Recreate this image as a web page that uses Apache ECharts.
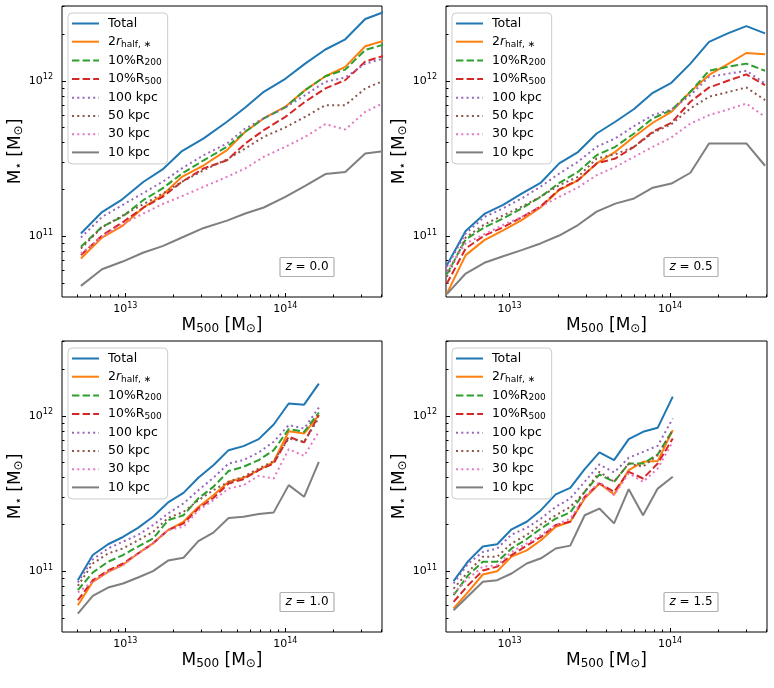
<!DOCTYPE html>
<html><head><meta charset="utf-8">
<script src="https://cdn.jsdelivr.net/npm/echarts@6/dist/echarts.min.js"></script>
<style>html,body{margin:0;padding:0;background:#fff}#c{width:774px;height:688px}</style>
</head><body><div id="c"></div>
<script>
// ---------- data ----------
const seriesNames = ['Total', '2r_half', '10%R200', '10%R500', '100 kpc', '50 kpc', '30 kpc', '10 kpc'];
const redshiftLabels = ['0.0', '0.5', '1.0', '1.5'];
const xMajorTicks = [1e13, 1e14];
const yMajorTicks = [1e11, 1e12];
const xMinorTicks = [5e12, 6e12, 7e12, 8e12, 9e12, 2e13, 3e13, 4e13, 5e13, 6e13, 7e13, 8e13, 9e13, 2e14, 3e14, 4e14];
const yMinorTicks = [5e10, 6e10, 7e10, 8e10, 9e10, 2e11, 3e11, 4e11, 5e11, 6e11, 7e11, 8e11, 9e11, 2e12, 3e12];

// z = 0.0
const z00_x      = [5.28e12, 7.15e12, 9.53e12, 1.30e13, 1.71e13, 2.26e13, 3.09e13, 4.32e13, 5.62e13, 7.33e13, 1.0e14, 1.33e14, 1.78e14, 2.37e14, 3.16e14, 4.12e14];
const z00_total  = [1.04e11, 1.43e11, 1.72e11, 2.24e11, 2.69e11, 3.53e11, 4.26e11, 5.45e11, 6.74e11, 8.5e11, 1.03e12, 1.29e12, 1.59e12, 1.85e12, 2.50e12, 2.77e12];
const z00_r2half = [7.18e10, 9.8e10, 1.16e11, 1.53e11, 1.84e11, 2.41e11, 2.86e11, 3.58e11, 4.70e11, 5.73e11, 6.81e11, 8.71e11, 1.07e12, 1.23e12, 1.67e12, 1.81e12];
const z00_r200   = [8.54e10, 1.15e11, 1.33e11, 1.71e11, 2.03e11, 2.53e11, 3.08e11, 3.76e11, 4.70e11, 5.73e11, 6.74e11, 8.71e11, 1.07e12, 1.18e12, 1.58e12, 1.71e12];
const z00_r500   = [7.55e10, 1.01e11, 1.22e11, 1.53e11, 1.79e11, 2.24e11, 2.73e11, 3.08e11, 3.95e11, 4.81e11, 5.86e11, 7.33e11, 8.93e11, 1.01e12, 1.33e12, 1.45e12];
const z00_k100   = [9.8e10, 1.33e11, 1.58e11, 1.90e11, 2.24e11, 2.73e11, 3.32e11, 3.95e11, 4.93e11, 5.73e11, 6.74e11, 8.09e11, 9.86e11, 1.05e12, 1.29e12, 1.39e12];
const z00_k50    = [8.33e10, 1.14e11, 1.35e11, 1.61e11, 1.88e11, 2.24e11, 2.66e11, 3.12e11, 3.67e11, 4.36e11, 5.01e11, 5.86e11, 6.97e11, 6.97e11, 8.93e11, 1.0e12];
const z00_k30    = [7.73e10, 9.9e10, 1.19e11, 1.40e11, 1.61e11, 1.81e11, 2.08e11, 2.41e11, 2.73e11, 3.24e11, 3.76e11, 4.36e11, 5.26e11, 4.86e11, 6.31e11, 7.21e11];
const z00_k10    = [4.79e10, 6.13e10, 6.84e10, 7.85e10, 8.63e10, 9.8e10, 1.13e11, 1.26e11, 1.40e11, 1.53e11, 1.79e11, 2.11e11, 2.51e11, 2.59e11, 3.40e11, 3.53e11];

// z = 0.5
const z05_x      = [4.07e12, 5.33e12, 6.97e12, 9.12e12, 1.19e13, 1.56e13, 2.04e13, 2.67e13, 3.49e13, 4.56e13, 5.97e13, 7.81e13, 1.02e14, 1.34e14, 1.75e14, 2.29e14, 2.99e14, 3.91e14];
const z05_total  = [6.5e10, 1.08e11, 1.39e11, 1.59e11, 1.88e11, 2.20e11, 2.94e11, 3.48e11, 4.58e11, 5.45e11, 6.58e11, 8.37e11, 9.71e11, 1.29e12, 1.78e12, 2.02e12, 2.25e12, 2.02e12];
const z05_r2half = [4.27e10, 7.55e10, 9.43e10, 1.09e11, 1.27e11, 1.53e11, 1.98e11, 2.29e11, 2.94e11, 3.49e11, 4.36e11, 5.37e11, 6.31e11, 8.50e11, 1.09e12, 1.28e12, 1.51e12, 1.48e12];
const z05_r200   = [5.69e10, 9.52e10, 1.14e11, 1.30e11, 1.51e11, 1.79e11, 2.20e11, 2.59e11, 3.32e11, 3.76e11, 4.58e11, 5.73e11, 6.48e11, 8.50e11, 1.16e12, 1.23e12, 1.29e12, 1.16e12];
const z05_r500   = [4.96e10, 8.33e10, 1.01e11, 1.14e11, 1.32e11, 1.55e11, 2.0e11, 2.29e11, 2.94e11, 3.16e11, 3.76e11, 4.70e11, 5.37e11, 7.33e11, 9.06e11, 1.0e12, 1.10e12, 9.38e11];
const z05_k100   = [6.35e10, 1.04e11, 1.33e11, 1.51e11, 1.75e11, 2.08e11, 2.53e11, 3.01e11, 3.76e11, 4.26e11, 5.11e11, 6.01e11, 6.53e11, 8.09e11, 1.06e12, 1.11e12, 1.16e12, 9.62e11];
const z05_k50    = [5.47e10, 9.8e10, 1.19e11, 1.36e11, 1.55e11, 1.79e11, 2.13e11, 2.41e11, 3.16e11, 3.37e11, 3.76e11, 4.63e11, 5.26e11, 6.64e11, 7.89e11, 8.46e11, 9.06e11, 7.51e11];
const z05_k30    = [5.98e10, 8.98e10, 1.03e11, 1.18e11, 1.33e11, 1.55e11, 1.79e11, 2.06e11, 2.47e11, 2.79e11, 3.24e11, 3.76e11, 4.32e11, 5.31e11, 6.01e11, 6.53e11, 7.14e11, 5.86e11];
const z05_k10    = [4.24e10, 5.75e10, 6.74e10, 7.43e10, 8.13e10, 8.98e10, 1.01e11, 1.18e11, 1.44e11, 1.62e11, 1.75e11, 2.05e11, 2.18e11, 2.56e11, 3.95e11, 3.95e11, 3.95e11, 2.84e11];

// z = 1.0
const z10_x      = [5.05e12, 6.26e12, 7.80e12, 9.67e12, 1.20e13, 1.49e13, 1.85e13, 2.31e13, 2.86e13, 3.55e13, 4.42e13, 5.48e13, 6.82e13, 8.46e13, 1.05e14, 1.31e14, 1.62e14];
const z10_total  = [8.75e10, 1.27e11, 1.49e11, 1.66e11, 1.90e11, 2.24e11, 2.77e11, 3.19e11, 3.99e11, 4.81e11, 6.01e11, 6.38e11, 7.08e11, 8.79e11, 1.20e12, 1.18e12, 1.61e12];
const z10_r2half = [6.04e10, 8.54e10, 9.9e10, 1.10e11, 1.30e11, 1.51e11, 1.84e11, 2.08e11, 2.59e11, 3.08e11, 3.76e11, 3.99e11, 4.47e11, 5.06e11, 7.96e11, 7.69e11, 1.01e12];
const z10_r200   = [7.55e10, 9.8e10, 1.15e11, 1.27e11, 1.44e11, 1.62e11, 2.13e11, 2.29e11, 2.94e11, 3.49e11, 4.41e11, 4.70e11, 5.19e11, 6.01e11, 8.2e11, 7.89e11, 1.05e12];
const z10_r500   = [6.50e10, 8.75e10, 1.01e11, 1.12e11, 1.30e11, 1.51e11, 1.84e11, 2.03e11, 2.53e11, 2.96e11, 3.67e11, 3.91e11, 4.47e11, 4.93e11, 7.33e11, 6.74e11, 1.01e12];
const z10_k100   = [8.46e10, 1.19e11, 1.40e11, 1.55e11, 1.71e11, 1.98e11, 2.35e11, 2.73e11, 3.32e11, 3.99e11, 4.93e11, 5.19e11, 5.81e11, 6.81e11, 8.71e11, 8.28e11, 1.13e12];
const z10_k50    = [8.05e10, 1.12e11, 1.30e11, 1.40e11, 1.58e11, 1.79e11, 2.20e11, 2.41e11, 2.86e11, 3.32e11, 3.76e11, 4.05e11, 4.58e11, 5.11e11, 7.14e11, 6.81e11, 9.71e11];
const z10_k30    = [7.30e10, 8.54e10, 9.9e10, 1.09e11, 1.30e11, 1.51e11, 1.84e11, 1.93e11, 2.47e11, 2.86e11, 3.40e11, 3.58e11, 4.11e11, 3.95e11, 6.10e11, 5.52e11, 7.89e11];
const z10_k10    = [5.33e10, 6.93e10, 7.85e10, 8.33e10, 9.1e10, 1.0e11, 1.17e11, 1.22e11, 1.56e11, 1.77e11, 2.20e11, 2.24e11, 2.33e11, 2.39e11, 3.58e11, 3.01e11, 5.06e11];

// z = 1.5
const z15_x      = [4.48e12, 5.53e12, 6.82e12, 8.38e12, 1.03e13, 1.28e13, 1.57e13, 1.94e13, 2.39e13, 2.94e13, 3.63e13, 4.48e13, 5.53e13, 6.79e13, 8.38e13, 1.04e14];
const z15_total  = [8.63e10, 1.16e11, 1.44e11, 1.49e11, 1.86e11, 2.08e11, 2.47e11, 3.12e11, 3.44e11, 4.54e11, 5.81e11, 5.19e11, 7.08e11, 7.89e11, 8.37e11, 1.33e12];
const z15_r2half = [5.75e10, 7.36e10, 9.52e10, 1.0e11, 1.24e11, 1.36e11, 1.58e11, 1.93e11, 2.08e11, 2.94e11, 3.67e11, 3.12e11, 4.47e11, 5.06e11, 5.11e11, 8.09e11];
const z15_r200   = [7.0e10, 9.43e10, 1.15e11, 1.15e11, 1.40e11, 1.61e11, 1.88e11, 2.18e11, 2.39e11, 3.24e11, 4.19e11, 3.76e11, 4.93e11, 4.93e11, 5.64e11, 8.09e11];
const z15_r500   = [6.35e10, 8.13e10, 1.01e11, 1.07e11, 1.27e11, 1.46e11, 1.66e11, 1.98e11, 2.08e11, 3.01e11, 3.67e11, 3.24e11, 4.36e11, 3.95e11, 4.93e11, 7.14e11];
const z15_k100   = [8.33e10, 1.12e11, 1.33e11, 1.40e11, 1.72e11, 1.90e11, 2.18e11, 2.59e11, 2.94e11, 3.76e11, 4.86e11, 4.32e11, 5.37e11, 5.86e11, 6.41e11, 9.62e11];
const z15_k50    = [7.73e10, 9.9e10, 1.24e11, 1.24e11, 1.51e11, 1.71e11, 2.0e11, 2.29e11, 2.59e11, 3.24e11, 4.36e11, 3.76e11, 4.93e11, 4.70e11, 5.59e11, 8.09e11];
const z15_k30    = [7.18e10, 8.98e10, 1.07e11, 1.09e11, 1.33e11, 1.51e11, 1.71e11, 1.98e11, 2.18e11, 3.01e11, 3.76e11, 3.08e11, 4.26e11, 3.76e11, 4.58e11, 6.81e11];
const z15_k10    = [5.61e10, 6.93e10, 8.54e10, 8.75e10, 9.66e10, 1.12e11, 1.21e11, 1.40e11, 1.46e11, 2.29e11, 2.53e11, 2.03e11, 3.37e11, 2.29e11, 3.40e11, 4.05e11];

// ---------- styling / layout ----------
const FONT = "'DejaVu Sans', sans-serif";
const X_MIN = 4.02e12, X_MAX = 4.02e14, Y_MIN = 4.06e10, Y_MAX = 3.03e12;
const colors = ['#1f77b4', '#ff7f0e', '#2ca02c', '#d62728', '#9467bd', '#8c564b', '#e377c2', '#7f7f7f'];
const dashes = ['solid', 'solid', [7.4, 3.2], [7.4, 3.2], [2, 3.3], [2, 3.3], [2, 3.3], 'solid'];
const grids = [
  {left: 62, top: 6, width: 320, height: 291},
  {left: 446, top: 6, width: 321, height: 291},
  {left: 62, top: 341, width: 320, height: 291},
  {left: 446, top: 341, width: 321, height: 291}
];
const panels = [
  {x: z00_x, ys: [z00_total, z00_r2half, z00_r200, z00_r500, z00_k100, z00_k50, z00_k30, z00_k10]},
  {x: z05_x, ys: [z05_total, z05_r2half, z05_r200, z05_r500, z05_k100, z05_k50, z05_k30, z05_k10]},
  {x: z10_x, ys: [z10_total, z10_r2half, z10_r200, z10_r500, z10_k100, z10_k50, z10_k30, z10_k10]},
  {x: z15_x, ys: [z15_total, z15_r2half, z15_r200, z15_r500, z15_k100, z15_k50, z15_k30, z15_k10]}
];
const legendText = {
  'Total': 'Total',
  '2r_half': '2{it|r}{sub|half, \u2217}',
  '10%R200': '10%R{sub|200}',
  '10%R500': '10%R{sub|500}',
  '100 kpc': '100 kpc', '50 kpc': '50 kpc', '30 kpc': '30 kpc', '10 kpc': '10 kpc'
};
const supFmt = v => '10{sup|' + Math.round(Math.log10(v)) + '}';
const tickRich = {sup: {fontFamily: FONT, fontSize: 8, color: '#000', padding: [0, 0, 7, 0]}};
const nameRich = {sub: {fontFamily: FONT, fontSize: 12, color: '#000', padding: [7, 0, 0, 0]}};

const xAxes = [], yAxes = [], series = [], legends = [], titles = [];
grids.forEach((g, i) => {
  xAxes.push({
    type: 'log', gridIndex: i, min: X_MIN, max: X_MAX, position: 'bottom',
    axisLine: {show: false}, splitLine: {show: false},
    axisTick: {show: true, inside: true, length: 4, lineStyle: {color: '#000', width: 1}, customValues: xMajorTicks},
    axisLabel: {show: true, customValues: xMajorTicks, formatter: supFmt, margin: 5, color: '#000',
      fontFamily: FONT, fontSize: 11, rich: tickRich},
    name: 'M{sub|500} [M{sub|\u2299}]', nameLocation: 'middle', nameGap: 19,
    nameTextStyle: {fontFamily: FONT, fontSize: 17, color: '#000', rich: nameRich}
  });
  xAxes.push({
    type: 'log', gridIndex: i, min: X_MIN, max: X_MAX, position: 'bottom',
    axisLine: {show: false}, splitLine: {show: false}, axisLabel: {show: false},
    axisTick: {show: true, inside: true, length: 2.5, lineStyle: {color: '#000', width: 1}, customValues: xMinorTicks}
  });
  yAxes.push({
    type: 'log', gridIndex: i, min: Y_MIN, max: Y_MAX, position: 'left',
    axisLine: {show: false}, splitLine: {show: false},
    axisTick: {show: true, inside: true, length: 4, lineStyle: {color: '#000', width: 1}, customValues: yMajorTicks},
    axisLabel: {show: true, customValues: yMajorTicks, formatter: supFmt, margin: 9, color: '#000',
      fontFamily: FONT, fontSize: 11, rich: tickRich},
    name: 'M{sub|\u22c6} [M{sub|\u2299}]', nameLocation: 'middle', nameGap: 37, nameRotate: 90,
    nameTextStyle: {fontFamily: FONT, fontSize: 17, color: '#000', rich: nameRich}
  });
  yAxes.push({
    type: 'log', gridIndex: i, min: Y_MIN, max: Y_MAX, position: 'left',
    axisLine: {show: false}, splitLine: {show: false}, axisLabel: {show: false},
    axisTick: {show: true, inside: true, length: 2.5, lineStyle: {color: '#000', width: 1}, customValues: yMinorTicks}
  });
  const p = panels[i];
  seriesNames.forEach((nm, j) => {
    series.push({
      type: 'line', name: nm, xAxisIndex: 2 * i, yAxisIndex: 2 * i,
      data: p.x.map((xv, k) => [xv, p.ys[j][k]]),
      symbol: 'none', showSymbol: false, clip: true, animation: false,
      lineStyle: {color: colors[j], width: 2, type: dashes[j]},
      itemStyle: {color: colors[j]},
      emphasis: {disabled: true}
    });
  });
  legends.push({
    data: seriesNames, orient: 'vertical', left: g.left + 6, top: g.top + 7,
    padding: [4, 6, 5, 3], itemWidth: 27, itemHeight: 12, itemGap: 5.2,
    backgroundColor: 'rgba(255,255,255,0.8)', borderColor: '#cccccc', borderWidth: 1, borderRadius: 4,
    itemStyle: {opacity: 0, borderWidth: 0},
    selectedMode: false,
    formatter: nm => '{g|}' + legendText[nm],
    textStyle: {fontFamily: FONT, fontSize: 12.5, color: '#000', lineHeight: 12,
      rich: {
        g: {width: 4},
        it: {fontFamily: FONT, fontSize: 12.5, fontStyle: 'italic', color: '#000'},
        sub: {fontFamily: FONT, fontSize: 9, color: '#000', padding: [5, 0, 0, 0]}
      }}
  });
  titles.push({
    text: '{i|z} = ' + redshiftLabels[i],
    left: g.left + 218, top: g.top + 251,
    padding: [3, 5.5, 3, 5.5], borderColor: '#b0b0b0', borderWidth: 1.2, borderRadius: 1,
    backgroundColor: '#fff',
    textStyle: {fontFamily: FONT, fontSize: 12, fontWeight: 'normal', color: '#000', lineHeight: 14,
      rich: {i: {fontFamily: FONT, fontSize: 12, fontStyle: 'italic', color: '#000', lineHeight: 14}}}
  });
});

const chart = echarts.init(document.getElementById('c'), null, {renderer: 'canvas'});
chart.setOption({
  animation: false,
  backgroundColor: '#fff',
  grid: grids.map(g => Object.assign({show: true, borderColor: '#000', borderWidth: 1, backgroundColor: 'transparent', containLabel: false}, g)),
  xAxis: xAxes, yAxis: yAxes, series: series, legend: legends, title: titles
});
</script></body></html>
